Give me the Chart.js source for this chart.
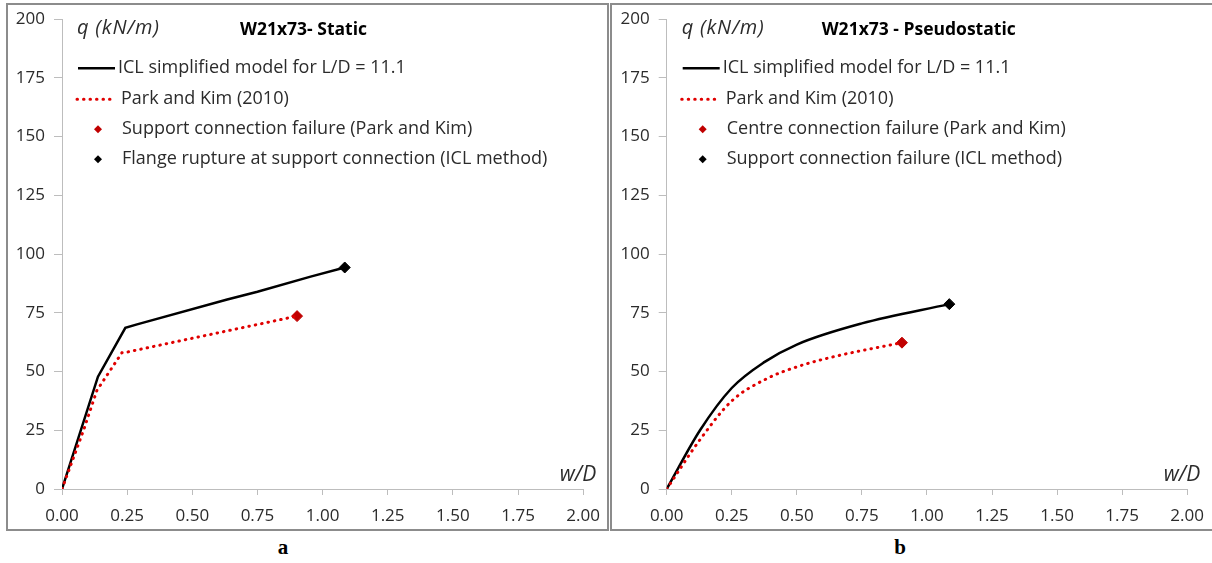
<!DOCTYPE html>
<html>
<head>
<meta charset="utf-8">
<script src="https://cdn.jsdelivr.net/npm/chart.js@4.4.1/dist/chart.umd.min.js"></script>
<style>
  html, body { margin:0; padding:0; background:#fff; }
  body { width:1212px; height:563px; position:relative; overflow:hidden; }
  .panel { position:absolute; top:3px; height:524px; border:2px solid #8c8c8c; background:#fff; }
  #p1 { left:6px; width:599px; }
  #p2 { left:610px; width:600px; }
  canvas { position:absolute; top:0; z-index:2; }
  #c1 { left:8px; }
  #c2 { left:612px; }
  .lab { position:absolute; top:535px; font:bold 21px "Liberation Serif", "DejaVu Serif", serif; color:#000; transform:translateX(-50%); }
</style>
</head>
<body>
<div class="panel" id="p1"></div>
<div class="panel" id="p2"></div>
<canvas id="c1" width="603" height="529" style="width:603px;height:529px"></canvas>
<canvas id="c2" width="603" height="529" style="width:603px;height:529px"></canvas>
<div class="lab" style="left:283px">a</div>
<div class="lab" style="left:900px">b</div>
<script>
// ---------- data ----------
const xTickLabels = ['0.00','0.25','0.50','0.75','1.00','1.25','1.50','1.75','2.00'];
const yTickLabels = ['0','25','50','75','100','125','150','175','200'];

// Panel a: W21x73 - Static
const staticIclX = [0, 0.138, 0.243, 0.288, 0.634, 0.75, 0.954, 1.085];
const staticIclY = [0, 47.8, 68.6, 70.1, 80.7, 84.0, 90.4, 94.3];
const staticParkX = [0, 0.083, 0.134, 0.23, 0.25, 0.531, 0.902];
const staticParkY = [0, 25.1, 42.0, 58.0, 58.3, 64.9, 73.6];
const staticParkFailX = [0.902];
const staticParkFailY = [73.6];
const staticIclFailX = [1.085];
const staticIclFailY = [94.3];

// Panel b: W21x73 - Pseudostatic
const pseudoIclX = [0, 0.128, 0.25, 0.375, 0.5, 0.75, 1.086];
const pseudoIclY = [0, 25.0, 43.0, 54.0, 61.5, 70.5, 78.7];
const pseudoParkX = [0, 0.128, 0.25, 0.385, 0.5, 0.641, 0.904];
const pseudoParkY = [0, 21.0, 37.5, 47.0, 52.0, 56.3, 62.3];
const pseudoParkFailX = [0.904];
const pseudoParkFailY = [62.3];
const pseudoIclFailX = [1.086];
const pseudoIclFailY = [78.7];

const staticLegend = [
  'ICL simplified model for L/D = 11.1',
  'Park and Kim (2010)',
  'Support connection failure (Park and Kim)',
  'Flange rupture at support connection (ICL method)'
];
const pseudoLegend = [
  'ICL simplified model for L/D = 11.1',
  'Park and Kim (2010)',
  'Centre connection failure (Park and Kim)',
  'Support connection failure (ICL method)'
];

// ---------- helpers ----------
const zip = (xs, ys) => xs.map((x, i) => ({x, y: ys[i]}));
const BLACK = '#000000';
const RED = '#e00000';
const DRED = '#c00000';
const AXIS = '#bdbdbd';
const TXT = '#2b2b2b';
const FONT = '"Open Sans", "Liberation Sans", sans-serif';
const DOT = [0.5, 6];

const annot = {
  id: 'annot',
  afterDraw(chart, args, o) {
    const {ctx, chartArea: {left, top, right, bottom}} = chart;
    ctx.save();
    ctx.fillStyle = TXT;
    ctx.textBaseline = 'middle';
    ctx.textAlign = 'left';
    ctx.font = 'italic 20px ' + FONT;
    try { ctx.letterSpacing = '0.8px'; } catch (e) {}
    ctx.fillText('q (kN/m)', left + 15, top + 9);
    try { ctx.letterSpacing = '0px'; } catch (e) {}
    ctx.font = 'bold 17.5px ' + FONT;
    ctx.fillStyle = '#000';
    ctx.fillText(o.title, left + o.titleDx, top + 11);
    ctx.fillStyle = TXT;
    ctx.font = 'italic 21px ' + FONT;
    ctx.textAlign = 'right';
    ctx.fillText('w/D', right + 13, bottom - 14);
    ctx.textAlign = 'left';
    const ys = [49, 80, 110, 140];
    ctx.font = '18px ' + FONT;
    // line entries
    ctx.lineWidth = 2.5; ctx.strokeStyle = BLACK; ctx.setLineDash([]); ctx.lineCap = 'butt';
    ctx.beginPath(); ctx.moveTo(left + 16, top + ys[0]); ctx.lineTo(left + 53, top + ys[0]); ctx.stroke();
    ctx.fillText(o.legend[0], left + 56, top + ys[0]);
    ctx.lineWidth = 3; ctx.strokeStyle = RED; ctx.setLineDash(DOT); ctx.lineCap = 'round';
    ctx.beginPath(); ctx.moveTo(left + 15, top + ys[1]); ctx.lineTo(left + 54, top + ys[1]); ctx.stroke();
    ctx.setLineDash([]); ctx.lineCap = 'butt';
    ctx.fillText(o.legend[1], left + 59, top + ys[1]);
    // marker entries
    const diamond = (cx, cy, r, c) => {
      ctx.fillStyle = c;
      ctx.beginPath(); ctx.moveTo(cx, cy - r); ctx.lineTo(cx + r, cy); ctx.lineTo(cx, cy + r); ctx.lineTo(cx - r, cy); ctx.closePath(); ctx.fill();
    };
    diamond(left + 36, top + ys[2], 4, DRED);
    diamond(left + 36, top + ys[3], 4, BLACK);
    ctx.fillStyle = TXT;
    ctx.fillText(o.legend[2], left + 60, top + ys[2]);
    ctx.fillText(o.legend[3], left + 60, top + ys[3]);
    ctx.restore();
  }
};

function makeChart(id, d, yWidth) {
  const lineDs = (data, color, width, dash, cap, tension) => ({
    data, borderColor: color, borderWidth: width, borderDash: dash, borderCapStyle: cap, pointRadius: 0,
    showLine: true, fill: false, tension, cubicInterpolationMode: tension ? 'monotone' : 'default'
  });
  const markDs = (data, color) => ({
    data, showLine: false, pointStyle: 'rectRot', pointRadius: 5.5,
    backgroundColor: color, borderColor: color, borderWidth: 1
  });
  return new Chart(document.getElementById(id), {
    type: 'scatter',
    data: {
      datasets: [
        lineDs(d.park, RED, 3, DOT, 'round', d.tension),
        lineDs(d.icl, BLACK, 2.5, [], 'butt', d.tension),
        markDs(d.parkFail, DRED),
        markDs(d.iclFail, BLACK)
      ]
    },
    options: {
      responsive: false,
      animation: false,
      events: [],
      layout: { padding: 0 },
      plugins: {
        legend: { display: false },
        tooltip: { enabled: false },
        annot: { title: d.title, titleDx: d.titleDx, legend: d.legend }
      },
      scales: {
        x: {
          type: 'linear', min: 0, max: 2,
          afterBuildTicks: s => { s.ticks = xTickLabels.map(t => ({value: parseFloat(t)})); },
          afterFit: s => { s.height = 40; },
          ticks: { callback: (v, i) => xTickLabels[i], color: TXT, font: { family: FONT, size: 17 }, padding: 11, maxRotation: 0, autoSkip: false },
          grid: { drawOnChartArea: false, drawTicks: true, tickLength: 6, color: AXIS },
          border: { color: AXIS, width: 1 }
        },
        y: {
          type: 'linear', min: 0, max: 200,
          afterBuildTicks: s => { s.ticks = yTickLabels.map(t => ({value: parseFloat(t)})); },
          afterFit: s => { s.width = yWidth; },
          ticks: { callback: (v, i) => yTickLabels[i], color: TXT, font: { family: FONT, size: 17 }, padding: 9, autoSkip: false },
          grid: { drawOnChartArea: false, drawTicks: true, tickLength: 8, color: AXIS },
          border: { color: AXIS, width: 1 }
        }
      }
    },
    plugins: [annot]
  });
}

makeChart('c1', {
  title: 'W21x73- Static', titleDx: 178, legend: staticLegend, tension: 0,
  icl: zip(staticIclX, staticIclY), park: zip(staticParkX, staticParkY),
  parkFail: zip(staticParkFailX, staticParkFailY), iclFail: zip(staticIclFailX, staticIclFailY)
}, 54);

makeChart('c2', {
  title: 'W21x73 - Pseudostatic', titleDx: 155, legend: pseudoLegend, tension: 0.4,
  icl: zip(pseudoIclX, pseudoIclY), park: zip(pseudoParkX, pseudoParkY),
  parkFail: zip(pseudoParkFailX, pseudoParkFailY), iclFail: zip(pseudoIclFailX, pseudoIclFailY)
}, 54.7);
</script>
</body>
</html>
